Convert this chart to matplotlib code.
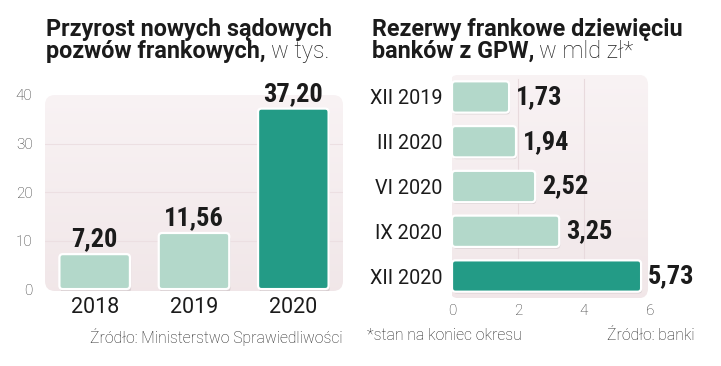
import matplotlib
matplotlib.use("Agg")
import matplotlib.pyplot as plt
import numpy as np
from matplotlib.patches import FancyBboxPatch

# ---- data ----
years = ["2018", "2019", "2020"]
lawsuits = [7.20, 11.56, 37.20]
lawsuit_labels = ["7,20", "11,56", "37,20"]
left_yticks = [0, 10, 20, 30, 40]

periods = ["XII 2019", "III 2020", "VI 2020", "IX 2020", "XII 2020"]
reserves = [1.73, 1.94, 2.52, 3.25, 5.73]
reserve_labels = ["1,73", "1,94", "2,52", "3,25", "5,73"]
right_xticks = [0, 2, 4, 6]

W, H = 721, 366
fig = plt.figure(figsize=(W / 100, H / 100), dpi=100)
fig.patch.set_facecolor("white")

COND = ["Roboto Condensed", "Liberation Sans Narrow", "DejaVu Sans"]
TITLE = ["Roboto", "DejaVu Sans"]
LIGHT = ["Roboto", "DejaVu Sans"]
LIGHT_C = "#b3d8ca"
DARK_C = "#239b86"
PANEL_TOP = np.array([0.975, 0.952, 0.957])
PANEL_BOT = np.array([0.945, 0.905, 0.912])
TXT = "#1b1b1b"
GREY = "#1f1f1f"
TICK = "#333333"


def ax_px(l, t, r, b):
    return fig.add_axes([l / W, 1 - b / H, (r - l) / W, (b - t) / H])


def panel(ax, x0, x1, y0, y1, rx, ry):
    grad = np.linspace(0, 1, 256)[:, None]
    img = PANEL_TOP[None, None, :] * (1 - grad[..., None]) + PANEL_BOT[None, None, :] * grad[..., None]
    img = np.repeat(img, 2, axis=1)
    clip = FancyBboxPatch((min(x0, x1), min(y0, y1)), abs(x1 - x0), abs(y1 - y0),
                          boxstyle=f"round,pad=0,rounding_size={rx}",
                          mutation_aspect=ry / rx, facecolor="none", edgecolor="none",
                          transform=ax.transData, clip_on=False)
    ax.add_patch(clip)
    inv = ax.yaxis_inverted()
    im = ax.imshow(img, extent=[x0, x1, min(y0, y1), max(y0, y1)] if not inv else [x0, x1, max(y0, y1), min(y0, y1)],
                   origin="upper", aspect="auto", zorder=0, interpolation="bilinear")
    im.set_clip_path(clip)


# ---------------- left chart ----------------
axL = ax_px(45, 95, 343, 291)
axL.set_xlim(-0.5, 2.5)
axL.set_ylim(-0.4, 40)
pxx = 298 / 3.0
pxy = 196 / 40.4
panel(axL, -0.5, 2.5, -0.4, 40, 0.1, 10 / pxy)
for g in [10, 20, 30]:
    axL.axhline(g, color="#ecdfe2", lw=0.8, zorder=1)

bw = 0.71
r = 3.5 / pxx
for i, (v, lab) in enumerate(zip(lawsuits, lawsuit_labels)):
    col = DARK_C if i == len(lawsuits) - 1 else LIGHT_C
    sh = FancyBboxPatch((i - bw / 2 + 0.012, -0.6), bw, v,
                        boxstyle=f"round,pad=0,rounding_size={r}",
                        mutation_aspect=pxx / pxy, facecolor="#c9bfc2", edgecolor="none",
                        zorder=2, alpha=0.6)
    axL.add_patch(sh)
    p = FancyBboxPatch((i - bw / 2, 0), bw, v,
                       boxstyle=f"round,pad=0,rounding_size={r}",
                       mutation_aspect=pxx / pxy, facecolor=col, edgecolor="white",
                       lw=1.6, zorder=3)
    axL.add_patch(p)
    axL.annotate(lab, (i, v), xytext=(0, 2), textcoords="offset points",
                 ha="center", va="bottom", fontsize=19, fontweight="bold",
                 family=COND, color=TXT, zorder=5)

axL.set_xticks(range(len(years)))
axL.set_xticklabels(years, fontsize=15.5, family=LIGHT, color=TXT)
axL.set_yticks(left_yticks)
axL.set_yticklabels([str(t) for t in left_yticks], fontsize=11, family=LIGHT,
                    fontweight="light", color=TICK)
axL.tick_params(axis="both", length=0)
axL.tick_params(axis="x", pad=4)
axL.tick_params(axis="y", pad=9)
for s in axL.spines.values():
    s.set_visible(False)
axL.set_facecolor("none")

# ---------------- right chart ----------------
axR = ax_px(452, 74.6, 650, 298.4)
axR.set_xlim(0, 6)
axR.set_ylim(4.5, -0.5)
pxx2 = 198 / 6
pxy2 = 223.8 / 5
panel(axR, -0.08, 5.94, -0.5, 4.5, 10 / pxx2, 10 / pxy2)
for g in [2, 4]:
    axR.axvline(g, color="#e8dadd", lw=0.8, zorder=1, ymin=0.03, ymax=0.98)

bh = 0.70
r2 = 3.5 / pxx2
for i, (v, lab) in enumerate(zip(reserves, reserve_labels)):
    col = DARK_C if i == len(reserves) - 1 else LIGHT_C
    sh = FancyBboxPatch((0.03, i - bh / 2 + 0.04), v, bh,
                        boxstyle=f"round,pad=0,rounding_size={r2}",
                        mutation_aspect=pxx2 / pxy2, facecolor="#c9bfc2", edgecolor="none",
                        zorder=2, alpha=0.6)
    axR.add_patch(sh)
    p = FancyBboxPatch((0, i - bh / 2), v, bh,
                       boxstyle=f"round,pad=0,rounding_size={r2}",
                       mutation_aspect=pxx2 / pxy2, facecolor=col, edgecolor="white",
                       lw=1.6, zorder=3)
    axR.add_patch(p)
    axR.annotate(lab, (v, i), xytext=(5, 0), textcoords="offset points",
                 ha="left", va="center", fontsize=19, fontweight="bold",
                 family=COND, color=TXT, zorder=5)

axR.set_yticks(range(len(periods)))
axR.set_yticklabels(periods, fontsize=14.2, family=LIGHT, color=TXT)
axR.set_xticks(right_xticks)
axR.set_xticklabels([str(t) for t in right_xticks], fontsize=11, family=LIGHT,
                    fontweight="light", color=TICK)
axR.tick_params(axis="both", length=0)
axR.tick_params(axis="y", pad=7)
axR.tick_params(axis="x", pad=4)
for s in axR.spines.values():
    s.set_visible(False)
axR.set_facecolor("none")

# ---------------- titles ----------------
renderer = fig.canvas.get_renderer()


def fit_size(txt, target_w, family, weight, base=16.0):
    t = fig.text(0, 0, txt, fontsize=base, fontweight=weight, family=family)
    w = t.get_window_extent(renderer).width
    t.remove()
    return base * target_w / w


def title_pair(x, y1, y2, line1, w1, bold2, light2):
    fs = fit_size(line1, w1, TITLE, "bold")
    fig.text(x / W, 1 - y1 / H, line1, fontsize=fs, fontweight="bold", family=TITLE,
             color=TXT, va="baseline", ha="left")
    t = fig.text(x / W, 1 - y2 / H, bold2, fontsize=fs, fontweight="bold", family=TITLE,
                 color=TXT, va="baseline", ha="left")
    bb = t.get_window_extent(renderer)
    fig.text((bb.x1 + 5) / W, 1 - y2 / H, light2, fontsize=fs, fontweight="light",
             family=LIGHT, color=GREY, va="baseline", ha="left")


title_pair(46, 36, 58, "Przyrost nowych sądowych", 287, "pozwów frankowych,", "w tys.")
title_pair(372, 36, 58, "Rezerwy frankowe dziewięciu", 311, "banków z GPW,", "w mld zł*")

# ---------------- footnotes ----------------
fig.text(343 / W, 1 - 337 / H, "Źródło: Ministerstwo Sprawiedliwości", fontsize=11.3,
         fontweight="light", family=LIGHT, color=GREY, ha="right", va="center")
fig.text(367 / W, 1 - 335 / H, "*stan na koniec okresu", fontsize=11.3,
         fontweight="light", family=LIGHT, color=GREY, ha="left", va="center")
fig.text(695 / W, 1 - 335 / H, "Źródło: banki", fontsize=11.3,
         fontweight="light", family=LIGHT, color=GREY, ha="right", va="center")

fig.savefig("out.png", dpi=100)
